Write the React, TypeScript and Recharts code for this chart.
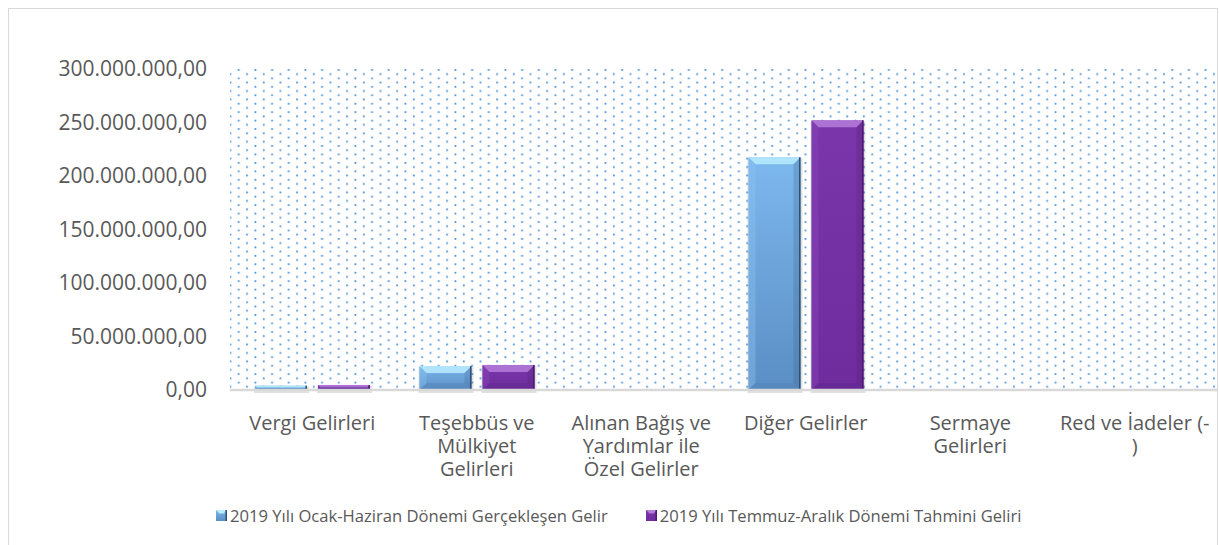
import React from 'react';
import { BarChart, Bar, XAxis, YAxis, CartesianGrid, Legend } from 'recharts';

const categories = [
  'Vergi Gelirleri',
  'Teşebbüs ve\nMülkiyet\nGelirleri',
  'Alınan Bağış ve\nYardımlar ile\nÖzel Gelirler',
  'Diğer Gelirler',
  'Sermaye\nGelirleri',
  'Red ve İadeler (-\n)',
];
const actualH1 = [4000000, 22400000, 0, 217500000, 0, 0];
const estimateH2 = [4700000, 23400000, 0, 252000000, 0, 0];
const seriesNames = [
  '2019 Yılı Ocak-Haziran Dönemi Gerçekleşen Gelir',
  '2019 Yılı Temmuz-Aralık Dönemi Tahmini Geliri',
];
const yTicks = [0, 50000000, 100000000, 150000000, 200000000, 250000000, 300000000];

const data = categories.map((c, i) => ({ name: c, a: actualH1[i], b: estimateH2[i] }));

const FONT = '"Open Sans", "Noto Sans", sans-serif';
const TEXT = '#595959';

const fmt = (v: number) =>
  Math.round(v).toString().replace(/\B(?=(\d{3})+(?!\d))/g, '.') + ',00';

const palettes: Record<string, any> = {
  blue: { grad: 'gBlue', top: '#b8ecff', left: '#8cc4f0', right: '#3d6087', bottom: '#4f7fb3', edge: '#2f4f74' },
  purple: { grad: 'gPurple', top: '#b57ddc', left: '#8a48bb', right: '#4e1f72', bottom: '#5c2687', edge: '#4a1b6c' },
};

const BevelBar = (kind: string) => (props: any) => {
  const { x, y, width, height } = props;
  if (!height || height <= 0) return null;
  const p = palettes[kind];
  const b = Math.min(7, height / 2);
  return (
    <g>
      <rect x={x - 1} y={y + 1} width={width + 3} height={height + 2} fill="#000" opacity={0.12} />
      <rect x={x} y={y} width={width} height={height} fill={`url(#${p.grad})`} />
      <polygon points={`${x},${y} ${x + width},${y} ${x + width - b},${y + b} ${x + b},${y + b}`} fill={p.top} opacity={0.85} />
      <polygon points={`${x},${y} ${x + b},${y + b} ${x + b},${y + height - b} ${x},${y + height}`} fill={p.left} opacity={0.4} />
      <polygon points={`${x + width},${y} ${x + width},${y + height} ${x + width - b},${y + height - b} ${x + width - b},${y + b}`} fill={p.right} opacity={0.25} />
      <polygon points={`${x},${y + height} ${x + width},${y + height} ${x + width - b},${y + height - b} ${x + b},${y + height - b}`} fill={p.bottom} opacity={0.35} />
      <rect x={x + width - 1.5} y={y} width={1.5} height={height} fill={p.edge} />
    </g>
  );
};

const XTick = (props: any) => {
  const { x, y, payload } = props;
  const lines = String(payload.value).split('\n');
  return (
    <g>
      {lines.map((l, i) => (
        <text key={i} x={x} y={y + 32 + i * 23} textAnchor="middle" fill={TEXT} fontSize={20} fontFamily={FONT}>
          {l}
        </text>
      ))}
    </g>
  );
};

const LegendMarker = ({ kind }: { kind: string }) => {
  const p = palettes[kind];
  return (
    <svg width={11} height={11} style={{ marginRight: 3 }}>
      <rect x={0} y={0} width={11} height={11} fill={`url(#${p.grad})`} />
      <polygon points="0,0 11,0 7.5,3.5 3.5,3.5" fill={p.top} />
      <rect x={9.5} y={0} width={1.5} height={11} fill={p.edge} />
    </svg>
  );
};

const LegendContent = () => (
  <div style={{ display: 'flex', alignItems: 'center', fontFamily: FONT, fontSize: 16.6, color: TEXT, whiteSpace: 'nowrap' }}>
    <LegendMarker kind="blue" />
    <span style={{ marginRight: 38 }}>{seriesNames[0]}</span>
    <LegendMarker kind="purple" />
    <span>{seriesNames[1]}</span>
  </div>
);

export default function App() {
  return (
    <div
      style={{
        position: 'absolute',
        left: 8,
        top: 8,
        width: 1208,
        height: 536,
        borderTop: '1px solid #d9d9d9',
        borderLeft: '1px solid #d9d9d9',
        borderRight: '1px solid #d9d9d9',
        background: '#fff',
      }}
    >
      <BarChart
        width={1208}
        height={536}
        data={data}
        margin={{ top: 60, right: 0, left: 1, bottom: 0 }}
        barSize={52}
        barGap={11}
      >
        <defs>
          <pattern id="dots" x={220.5} y={60} width={16.67} height={8.45} patternUnits="userSpaceOnUse">
            <rect x={0} y={4.2} width={1.8} height={1.8} fill="#4f94d9" />
            <rect x={8.33} y={0} width={1.8} height={1.8} fill="#4f94d9" />
          </pattern>
          <linearGradient id="gBlue" x1="0" y1="0" x2="0" y2="1">
            <stop offset="0%" stopColor="#7db8ee" />
            <stop offset="100%" stopColor="#5a8ec4" />
          </linearGradient>
          <linearGradient id="gPurple" x1="0" y1="0" x2="0" y2="1">
            <stop offset="0%" stopColor="#7a36aa" />
            <stop offset="100%" stopColor="#6e2c9d" />
          </linearGradient>
        </defs>
        <CartesianGrid horizontal={false} vertical={false} fill="url(#dots)" stroke="none" />
        <XAxis
          dataKey="name"
          height={155}
          interval={0}
          tickLine={false}
          axisLine={{ stroke: '#d9d9d9', strokeWidth: 2.5 }}
          tick={<XTick />}
        />
        <YAxis
          width={220}
          domain={[0, 300000000]}
          ticks={yTicks}
          tickFormatter={fmt}
          axisLine={false}
          tickLine={false}
          tickSize={0}
          tickMargin={23}
          tick={{ fill: TEXT, fontSize: 21, fontFamily: FONT }}
        />
        <Legend
          layout="horizontal"
          verticalAlign="middle"
          align="center"
          content={<LegendContent />}
          wrapperStyle={{ position: 'absolute', left: 207, top: 495, width: 'auto' }}
        />
        <Bar dataKey="a" name={seriesNames[0]} isAnimationActive={false} shape={BevelBar('blue')} />
        <Bar dataKey="b" name={seriesNames[1]} isAnimationActive={false} shape={BevelBar('purple')} />
      </BarChart>
    </div>
  );
}
